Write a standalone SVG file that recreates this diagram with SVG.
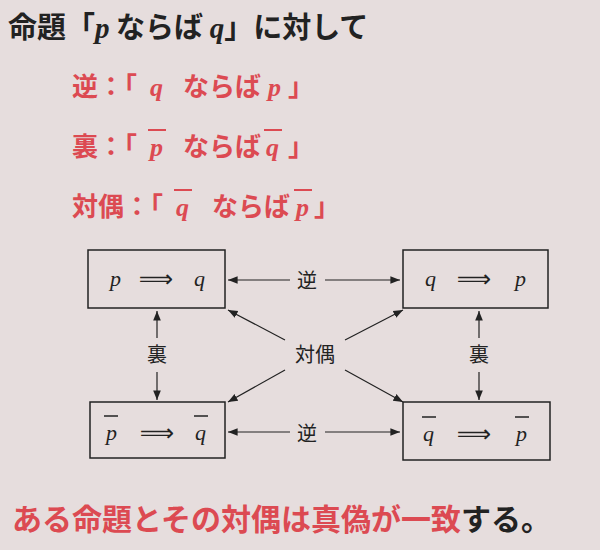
<svg xmlns="http://www.w3.org/2000/svg" width="600" height="550" viewBox="0 0 600 550">
<style>
.j{font-family:"Noto Sans CJK JP","Noto Sans",sans-serif;font-weight:bold}
.r{fill:#dc4a52}
.k{fill:#222}
.m{font-family:"Liberation Serif","DejaVu Serif",serif;font-style:italic}
.n{font-family:"Noto Sans CJK JP",sans-serif;fill:#222}
.box{fill:none;stroke:#222;stroke-width:1.5}
.c{stroke:#222;stroke-width:1.2;fill:none;marker-end:url(#a)}
.ol{stroke-width:2}
</style>
<defs><marker id="a" viewBox="0 0 10 10" refX="10" refY="5" markerWidth="8" markerHeight="8" orient="auto"><path d="M0,1 L10,5 L0,9 z" fill="#222"/></marker></defs>
<rect width="600" height="550" fill="#e6dddd"/>
<g id="title">
<text x="8" y="38" font-size="29" class="j k">命題「<tspan class="m" font-weight="bold">p</tspan> ならば <tspan class="m" font-weight="bold">q</tspan>」に対して</text>
</g>
<g id="lines" font-size="26">
<text x="72" y="96" class="j r">逆：「</text>
<text x="150" y="96" class="m r" font-weight="bold">q</text>
<text x="183" y="96" class="j r">ならば</text>
<text x="268" y="96" class="m r" font-weight="bold">p</text>
<text x="288" y="96" class="j r">」</text>
<text x="72" y="156" class="j r">裏：「</text>
<text x="150" y="156" class="m r" font-weight="bold">p</text>
<line x1="148" y1="130" x2="166" y2="130" stroke="#dc4a52" class="ol"/>
<text x="183" y="156" class="j r">ならば</text>
<text x="266" y="156" class="m r" font-weight="bold">q</text>
<line x1="264" y1="130" x2="282" y2="130" stroke="#dc4a52" class="ol"/>
<text x="288" y="156" class="j r">」</text>
<text x="72" y="216" class="j r">対偶：「</text>
<text x="176" y="216" class="m r" font-weight="bold">q</text>
<line x1="174" y1="190" x2="192" y2="190" stroke="#dc4a52" class="ol"/>
<text x="212" y="216" class="j r">ならば</text>
<text x="296" y="216" class="m r" font-weight="bold">p</text>
<line x1="294" y1="190" x2="312" y2="190" stroke="#dc4a52" class="ol"/>
<text x="314" y="216" class="j r">」</text>
</g>
<g id="n1"><rect class="box" x="88" y="250" width="137" height="58"/>
<text x="110" y="286" font-size="22" class="m k">p</text><text x="156" y="287" font-size="24" font-family="DejaVu Sans" fill="#222" text-anchor="middle">⟹</text><text x="194" y="286" font-size="22" class="m k">q</text></g>
<g id="n2"><rect class="box" x="403" y="250" width="145" height="58"/>
<text x="425" y="286" font-size="22" class="m k">q</text><text x="474" y="287" font-size="24" font-family="DejaVu Sans" fill="#222" text-anchor="middle">⟹</text><text x="515" y="286" font-size="22" class="m k">p</text></g>
<g id="n3"><rect class="box" x="90" y="402" width="135" height="56"/>
<text x="106" y="440" font-size="22" class="m k">p</text><line x1="104" y1="416" x2="118" y2="416" stroke="#222" stroke-width="1.5"/>
<text x="157" y="441" font-size="24" font-family="DejaVu Sans" fill="#222" text-anchor="middle">⟹</text>
<text x="195" y="440" font-size="22" class="m k">q</text><line x1="194" y1="416" x2="208" y2="416" stroke="#222" stroke-width="1.5"/></g>
<g id="n4"><rect class="box" x="403" y="402" width="147" height="58"/>
<text x="423" y="441" font-size="22" class="m k">q</text><line x1="422" y1="417" x2="436" y2="417" stroke="#222" stroke-width="1.5"/>
<text x="474" y="442" font-size="24" font-family="DejaVu Sans" fill="#222" text-anchor="middle">⟹</text>
<text x="516" y="441" font-size="22" class="m k">p</text><line x1="515" y1="417" x2="529" y2="417" stroke="#222" stroke-width="1.5"/></g>
<g id="connectors">
<line class="c" x1="290" y1="280" x2="228" y2="280"/>
<line class="c" x1="325" y1="280" x2="400" y2="280"/>
<line class="c" x1="290" y1="432" x2="228" y2="432"/>
<line class="c" x1="325" y1="432" x2="400" y2="432"/>
<line class="c" x1="157" y1="338" x2="157" y2="311"/>
<line class="c" x1="157" y1="372" x2="157" y2="400"/>
<line class="c" x1="479" y1="338" x2="479" y2="311"/>
<line class="c" x1="479" y1="372" x2="479" y2="400"/>
<line class="c" x1="285" y1="340" x2="228" y2="310"/>
<line class="c" x1="345" y1="340" x2="403" y2="310"/>
<line class="c" x1="285" y1="370" x2="228" y2="402"/>
<line class="c" x1="345" y1="370" x2="403" y2="402"/>
<text x="307" y="288" font-size="20" class="n" text-anchor="middle">逆</text>
<text x="307" y="441" font-size="20" class="n" text-anchor="middle">逆</text>
<text x="157" y="362" font-size="20" class="n" text-anchor="middle">裏</text>
<text x="479" y="362" font-size="20" class="n" text-anchor="middle">裏</text>
<text x="315" y="362" font-size="20" class="n" text-anchor="middle">対偶</text>
</g>
<g id="footer"><text x="12" y="530" font-size="30" class="j r">ある命題とその対偶は真偽が一致<tspan class="k">する。</tspan></text></g>
</svg>
